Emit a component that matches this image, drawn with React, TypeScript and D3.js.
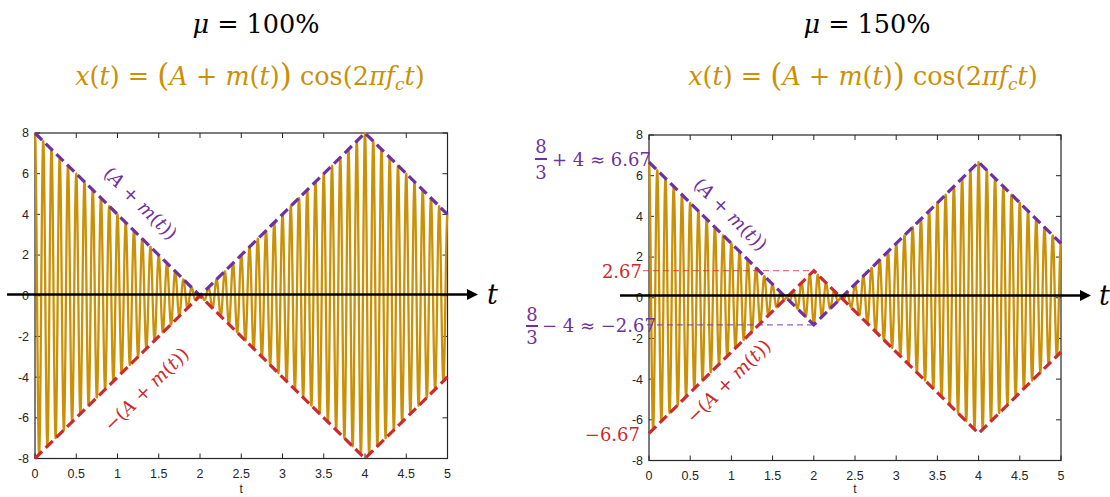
import React from "react";
import * as d3 from "d3";

// Message signal m(t): triangle wave, given at its corner times
const knotTimes = [0, 2, 4, 5];
const messageAtKnots = [4, -4, 4, 0];
// Carrier
const carrierFreq = 10;
const samplesPerCycle = 60;
// Modulation depth cases: DC offset A for each panel
const modIndexLabels = ["100%", "150%"];
const carrierOffsets = [4, 8 / 3];
// Axis ticks
const xTicks = [0, 0.5, 1, 1.5, 2, 2.5, 3, 3.5, 4, 4.5, 5];
const yTicks = [-8, -6, -4, -2, 0, 2, 4, 6, 8];
// Reference levels marked on the over-modulated panel
const refUpperText = "2.67";
const refLowerText = "\u22126.67";

const GOLD = "#CB9006";
const PURPLE = "#7030A0";
const RED = "#CC2B2E";
const AXIS = "#262626";
const SERIF = "'DejaVu Serif', serif";

type Geo = { x0: number; x1: number; top: number; bottom: number };

const mScale = d3.scaleLinear().domain(knotTimes).range(messageAtKnots);
const timeSamples = d3.range(0, 5 * carrierFreq * samplesPerCycle + 1).map(
  (i) => i / (carrierFreq * samplesPerCycle)
);

function Formula({ cx, y }: { cx: number; y: number }) {
  const it = { fontStyle: "italic" as const };
  return (
    <text x={cx} y={y} textAnchor="middle" fontSize={25.5} fill={GOLD} fontFamily={SERIF}>
      <tspan {...it}>x</tspan>
      <tspan>(</tspan>
      <tspan {...it}>t</tspan>
      <tspan>{") = "}</tspan>
      <tspan fontSize={31} dy={1}>(</tspan>
      <tspan {...it} dy={-1}>A</tspan>
      <tspan>{" + "}</tspan>
      <tspan {...it}>m</tspan>
      <tspan>(</tspan>
      <tspan {...it}>t</tspan>
      <tspan>)</tspan>
      <tspan fontSize={31} dy={1}>)</tspan>
      <tspan dy={-1}>{" cos(2"}</tspan>
      <tspan {...it}>{"\u03c0f"}</tspan>
      <tspan {...it} fontSize={17} dy={5}>c</tspan>
      <tspan {...it} dy={-5}>t</tspan>
      <tspan>)</tspan>
    </text>
  );
}

function CurveLabel({ x, y, angle, color, neg }: { x: number; y: number; angle: number; color: string; neg: boolean }) {
  return (
    <text
      transform={`translate(${x},${y}) rotate(${angle})`}
      textAnchor="middle"
      dominantBaseline="central"
      fontSize={18.5}
      fill={color}
      fontFamily={SERIF}
    >
      {neg && <tspan>{"\u2212"}</tspan>}
      <tspan>(</tspan>
      <tspan fontStyle="italic">A</tspan>
      <tspan>{" + "}</tspan>
      <tspan fontStyle="italic">m</tspan>
      <tspan>(</tspan>
      <tspan fontStyle="italic">t</tspan>
      <tspan>))</tspan>
    </text>
  );
}

function Arrow({ xStart, xTip, y, labelX }: { xStart: number; xTip: number; y: number; labelX: number }) {
  return (
    <g>
      <line x1={xStart} x2={xTip - 6} y1={y} y2={y} stroke="#000" strokeWidth={2.6} />
      <path d={`M${xTip},${y} L${xTip - 11},${y - 5.5} L${xTip - 11},${y + 5.5} Z`} fill="#000" />
      <text x={labelX} y={y + 9} fontSize={27} fontStyle="italic" fontFamily={SERIF} fill="#000">
        t
      </text>
    </g>
  );
}

function Panel({ idx, geo }: { idx: number; geo: Geo }) {
  const A = carrierOffsets[idx];
  const x = d3.scaleLinear().domain([0, 5]).range([geo.x0, geo.x1]);
  const y = d3.scaleLinear().domain([-8, 8]).range([geo.bottom, geo.top]);
  const env = (t: number) => A + mScale(t);

  const signal = d3
    .line<number>()
    .x((t) => x(t))
    .y((t) => y(env(t) * Math.cos(2 * Math.PI * carrierFreq * t)));
  const upper = d3
    .line<number>()
    .x((t) => x(t))
    .y((t) => y(env(t)));
  const lower = d3
    .line<number>()
    .x((t) => x(t))
    .y((t) => y(-env(t)));

  // slope of the envelope on screen, for rotating its labels
  const slope = (Math.atan2(y(0) - y(4), x(1) - x(0)) * 180) / Math.PI;

  return (
    <g>
      {/* axes box */}
      <rect x={geo.x0} y={geo.top} width={geo.x1 - geo.x0} height={geo.bottom - geo.top} fill="none" stroke={AXIS} strokeWidth={1.2} />
      {xTicks.map((t) => (
        <g key={"xt" + t}>
          <line x1={x(t)} x2={x(t)} y1={geo.bottom} y2={geo.bottom - 5} stroke={AXIS} />
          <line x1={x(t)} x2={x(t)} y1={geo.top} y2={geo.top + 5} stroke={AXIS} />
          <text x={x(t)} y={geo.bottom + 19} textAnchor="middle" fontSize={12.5} fill={AXIS} fontFamily="'Liberation Sans', Arial, sans-serif">
            {t}
          </text>
        </g>
      ))}
      {yTicks.map((v) => (
        <g key={"yt" + v}>
          <line x1={geo.x0} x2={geo.x0 + 5} y1={y(v)} y2={y(v)} stroke={AXIS} />
          <line x1={geo.x1} x2={geo.x1 - 5} y1={y(v)} y2={y(v)} stroke={AXIS} />
          <text x={geo.x0 - 6} y={y(v)} dy="0.35em" textAnchor="end" fontSize={12.5} fill={AXIS} fontFamily="'Liberation Sans', Arial, sans-serif">
            {v}
          </text>
        </g>
      ))}
      <text x={(geo.x0 + geo.x1) / 2} y={492.5} textAnchor="middle" fontSize={12} fill={AXIS} fontFamily="'Liberation Sans', Arial, sans-serif">
        t
      </text>

      {/* modulated carrier */}
      <path d={signal(timeSamples) || ""} fill="none" stroke={GOLD} strokeWidth={2.3} strokeLinejoin="round" />

      {/* envelopes */}
      <path d={upper(knotTimes) || ""} fill="none" stroke={PURPLE} strokeWidth={3.2} strokeDasharray="10,5" />
      <path d={lower(knotTimes) || ""} fill="none" stroke={RED} strokeWidth={3.2} strokeDasharray="10,5" />

      {idx === 0 ? (
        <>
          <CurveLabel x={x(1.285)} y={y(4.56)} angle={slope} color={PURPLE} neg={false} />
          <CurveLabel x={x(1.345)} y={y(-4.58)} angle={-slope} color={RED} neg={true} />
        </>
      ) : (
        <>
          <CurveLabel x={x(0.995)} y={y(4.12)} angle={slope} color={PURPLE} neg={false} />
          <CurveLabel x={x(0.96)} y={y(-4.09)} angle={-slope} color={RED} neg={true} />
          {/* envelope extremes at t = 2 */}
          <line x1={geo.x0 - 6} x2={x(2)} y1={y(-env(2))} y2={y(-env(2))} stroke={RED} strokeOpacity={0.65} strokeWidth={1.4} strokeDasharray="6,4" />
          <line x1={geo.x0 - 2} x2={x(2)} y1={y(env(2))} y2={y(env(2))} stroke={PURPLE} strokeOpacity={0.75} strokeWidth={1.4} strokeDasharray="6,4" />
          <g fontFamily={SERIF} fontSize={18}>
            <text x={geo.x0 - 7} y={y(-env(2))} dy="0.4em" textAnchor="end" fill={RED}>
              {refUpperText}
            </text>
            <text x={geo.x0 - 9} y={y(-env(0))} dy="0.4em" textAnchor="end" fill={RED}>
              {refLowerText}
            </text>
            {/* (8/3) + 4 */}
            <g fill={PURPLE}>
              <text x={geo.x0 - 108} y={153} textAnchor="middle">8</text>
              <line x1={geo.x0 - 114} x2={geo.x0 - 102} y1={159} y2={159} stroke={PURPLE} strokeWidth={2} />
              <text x={geo.x0 - 108} y={179} textAnchor="middle">3</text>
              <text x={geo.x0 - 97} y={166}>{"+ 4 \u2248 6.67"}</text>
              <text x={geo.x0 - 117} y={321} textAnchor="middle">8</text>
              <line x1={geo.x0 - 123} x2={geo.x0 - 111} y1={326} y2={326} stroke={PURPLE} strokeWidth={2} />
              <text x={geo.x0 - 117} y={344} textAnchor="middle">3</text>
              <text x={geo.x0 - 107} y={332}>{"\u2212 4 \u2248 \u22122.67"}</text>
            </g>
          </g>
        </>
      )}
    </g>
  );
}

export default function App() {
  const geos: Geo[] = [
    { x0: 35, x1: 447.5, top: 133, bottom: 458.5 },
    { x0: 649, x1: 1061, top: 135, bottom: 460.5 },
  ];
  const titleX = [256, 867];
  const formulaX = [250, 863];
  return (
    <svg
      width={1110}
      height={497}
      viewBox="0 0 1110 497"
      style={{ position: "absolute", left: 0, top: 0, background: "#fff" }}
    >
      {geos.map((g, i) => (
        <g key={i}>
          <text x={titleX[i]} y={33} textAnchor="middle" fontSize={25.5} fill="#000" fontFamily={SERIF}>
            <tspan fontStyle="italic">{"\u03bc"}</tspan>
            <tspan>{" = " + modIndexLabels[i]}</tspan>
          </text>
          <Formula cx={formulaX[i]} y={85} />
          <Panel idx={i} geo={g} />
        </g>
      ))}
      <Arrow xStart={7} xTip={478} y={294.5} labelX={487} />
      <Arrow xStart={620} xTip={1091} y={295.5} labelX={1099} />
    </svg>
  );
}
